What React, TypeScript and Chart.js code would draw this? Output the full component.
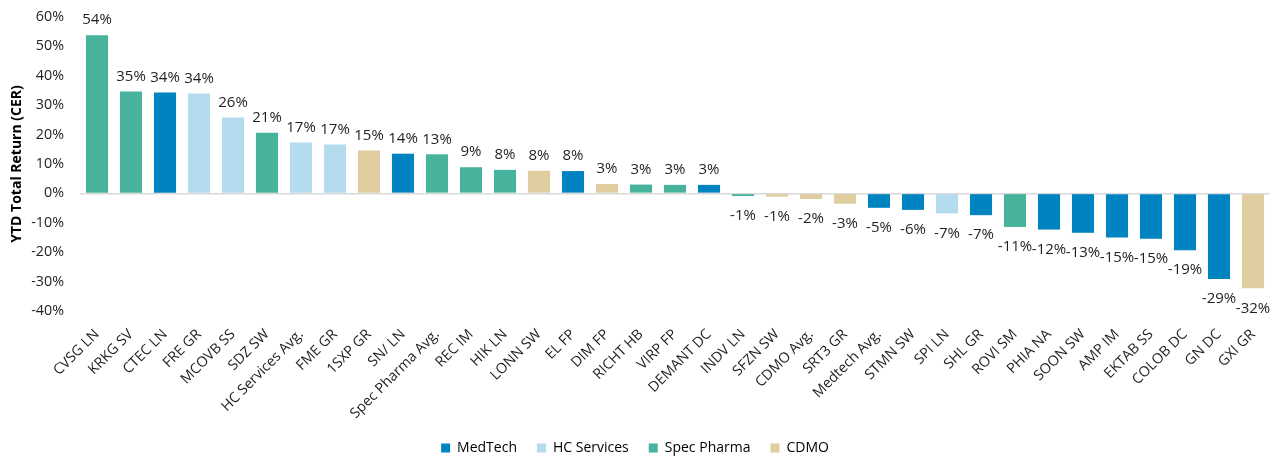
import React, { useEffect, useRef } from "react";
import { Chart, registerables } from "chart.js";

Chart.register(...registerables);

const categories = [
  "CVSG LN", "KRKG SV", "CTEC LN", "FRE GR", "MCOVB SS", "SDZ SW", "HC Services Avg.", "FME GR",
  "1SXP GR", "SN/ LN", "Spec Pharma Avg.", "REC IM", "HIK LN", "LONN SW", "EL FP", "DIM FP",
  "RICHT HB", "VIRP FP", "DEMANT DC", "INDV LN", "SFZN SW", "CDMO Avg.", "SRT3 GR", "Medtech Avg.",
  "STMN SW", "SPI LN", "SHL GR", "ROVI SM", "PHIA NA", "SOON SW", "AMP IM", "EKTAB SS",
  "COLOB DC", "GN DC", "GXI GR",
];

const returns = [
  53.8, 34.7, 34.3, 34.0, 25.8, 20.6, 17.3, 16.6,
  14.6, 13.5, 13.3, 8.9, 8.0, 7.7, 7.6, 3.2,
  3.0, 2.9, 2.9, -0.9, -1.1, -1.9, -3.5, -4.9,
  -5.6, -6.8, -7.4, -11.4, -12.3, -13.4, -15.0, -15.4,
  -19.3, -29.1, -32.3,
];

// segment for each bar
const segments = [
  "Spec Pharma", "Spec Pharma", "MedTech", "HC Services", "HC Services", "Spec Pharma", "HC Services", "HC Services",
  "CDMO", "MedTech", "Spec Pharma", "Spec Pharma", "Spec Pharma", "CDMO", "MedTech", "CDMO",
  "Spec Pharma", "Spec Pharma", "MedTech", "Spec Pharma", "CDMO", "CDMO", "CDMO", "MedTech",
  "MedTech", "HC Services", "MedTech", "Spec Pharma", "MedTech", "MedTech", "MedTech", "MedTech",
  "MedTech", "MedTech", "CDMO",
];

const segmentNames = ["MedTech", "HC Services", "Spec Pharma", "CDMO"];
const segmentColors = ["#0083C1", "#B4DCEE", "#47B39D", "#DFCD9F"];

const yTicks = [-40, -30, -20, -10, 0, 10, 20, 30, 40, 50, 60];

const FONT = "'Open Sans', 'Noto Sans', sans-serif";

const valueLabels = {
  id: "valueLabels",
  afterDatasetsDraw(chart: any) {
    const ctx = chart.ctx;
    const meta = chart.getDatasetMeta(0);
    const data = chart.data.datasets[0].data as number[];
    ctx.save();
    ctx.font = `15px ${FONT}`;
    ctx.fillStyle = "#1F1F1F";
    ctx.textAlign = "center";
    ctx.textBaseline = "middle";
    meta.data.forEach((bar: any, i: number) => {
      const v = data[i];
      const txt = `${Math.round(v)}%`;
      const y = v >= 0 ? bar.y - 15 : bar.y + 20;
      ctx.fillText(txt, bar.x, y);
    });
    ctx.restore();
  },
};

export default function App() {
  const ref = useRef<HTMLCanvasElement | null>(null);

  useEffect(() => {
    if (!ref.current) return;
    const colorOf = (s: string) => segmentColors[segmentNames.indexOf(s)];
    const chart = new Chart(ref.current, {
      type: "bar",
      data: {
        labels: categories,
        datasets: [
          {
            label: "YTD Total Return",
            data: returns,
            backgroundColor: segments.map(colorOf),
            borderWidth: 0,
            categoryPercentage: 1,
            barPercentage: 0.65,
          },
        ],
      },
      options: {
        animation: false,
        responsive: true,
        maintainAspectRatio: false,
        layout: { padding: { top: 17, right: 8, left: 0, bottom: -6 } },
        plugins: {
          tooltip: { enabled: false },
          legend: {
            position: "bottom",
            labels: {
              boxWidth: 9,
              boxHeight: 9,
              padding: 20,
              color: "#1F1F1F",
              font: { family: FONT, size: 14 },
              generateLabels: () =>
                segmentNames.map((n, i) => ({
                  text: n,
                  fillStyle: segmentColors[i],
                  strokeStyle: segmentColors[i],
                  lineWidth: 0,
                  hidden: false,
                  datasetIndex: 0,
                })),
            },
            onClick: () => {},
          },
        },
        scales: {
          x: {
            grid: { display: false },
            border: { display: false },
            ticks: {
              autoSkip: false,
              maxRotation: 45,
              minRotation: 45,
              color: "#1F1F1F",
              font: { family: FONT, size: 14.3 },
              padding: 7,
            },
            afterFit: (scale: any) => {
              scale.height = 110;
            },
          },
          y: {
            min: -40,
            max: 60,
            afterBuildTicks: (scale: any) => {
              scale.ticks = yTicks.map((v) => ({ value: v }));
            },
            grid: {
              drawTicks: false,
              color: (c: any) => (c.tick && c.tick.value === 0 ? "#D9D9D9" : "rgba(0,0,0,0)"),
              lineWidth: 1.5,
            },
            border: { display: false },
            ticks: {
              color: "#1F1F1F",
              font: { family: FONT, size: 14.3 },
              padding: 16,
              callback: (v: any) => `${v}%`,
            },
            title: {
              display: true,
              text: "YTD Total Return (CER)",
              color: "#000",
              font: { family: FONT, size: 14, weight: "bold" },
              padding: { top: 9, bottom: 0 },
            },
            afterFit: (scale: any) => {
              scale.width = 80;
              scale.paddingTop = 0;
              scale.paddingBottom = 0;
            },
          },
        },
      },
      plugins: [valueLabels],
    });
    return () => chart.destroy();
  }, []);

  return (
    <div style={{ position: "absolute", left: 0, top: 0, width: 1278, height: 459 }}>
      <canvas ref={ref} />
    </div>
  );
}
